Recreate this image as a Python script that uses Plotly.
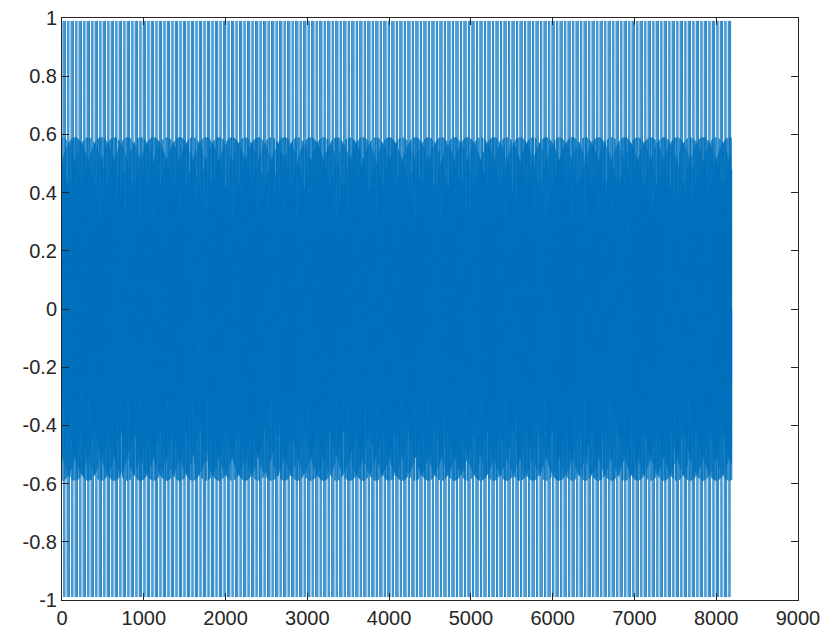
import numpy as np
import plotly.graph_objects as go

# Values
n_samples = 8192            # signal length (data ends just past 8000)
band_amplitude = 0.59       # dense band edge (±0.59)
peak_amplitude = 0.99       # sparse excursions reach about ±1
base_freq = 5.0 / 12.0      # cycles per sample of the dense component
scallop_period = 160.0      # samples between scallops on the band edge
spike_step = 7              # samples between alternating ±1 excursions
gap_period = 49             # excursions missing periodically (white stripes)
gap_width = 10

x_ticks = [0, 1000, 2000, 3000, 4000, 5000, 6000, 7000, 8000, 9000]
y_ticks = [-1, -0.8, -0.6, -0.4, -0.2, 0, 0.2, 0.4, 0.6, 0.8, 1]
y_tick_text = ["-1", "-0.8", "-0.6", "-0.4", "-0.2", "0", "0.2", "0.4", "0.6", "0.8", "1"]

n = np.arange(n_samples)
freq = base_freq + 1.0 / (12.0 * scallop_period)
signal = band_amplitude * np.sin(2 * np.pi * freq * n)
spike_idx = (n % spike_step == 0) & ((n % gap_period) >= gap_width)
spike_sign = np.where((n // spike_step) % 2 == 0, 1.0, -1.0)
signal = np.where(spike_idx, spike_sign * peak_amplitude, signal)
signal[-1] = 0.0

fig = go.Figure()
fig.add_trace(go.Scatter(
    x=n, y=signal, mode="lines",
    line=dict(color="#0072BD", width=0.6, simplify=False),
    hoverinfo="skip", showlegend=False,
))

axis_common = dict(
    showgrid=False, zeroline=False, automargin=False,
    showline=True, linecolor="#262626", linewidth=1,
    mirror="ticks", ticks="inside", ticklen=7, tickcolor="#262626", tickwidth=1,
    ticklabeloverflow="allow",
    tickfont=dict(family="Liberation Sans, Arial, sans-serif", size=20, color="#262626"),
)
fig.update_xaxes(range=[0, 9000], tickvals=x_ticks, ticktext=[str(v) for v in x_ticks], **axis_common)
fig.update_yaxes(range=[-1, 1], tickvals=y_ticks, ticktext=y_tick_text, **axis_common)

fig.update_layout(
    width=820, height=632,
    margin=dict(l=54, r=30, t=10, b=40),
    paper_bgcolor="white", plot_bgcolor="white",
)
fig.write_html("out.html")
